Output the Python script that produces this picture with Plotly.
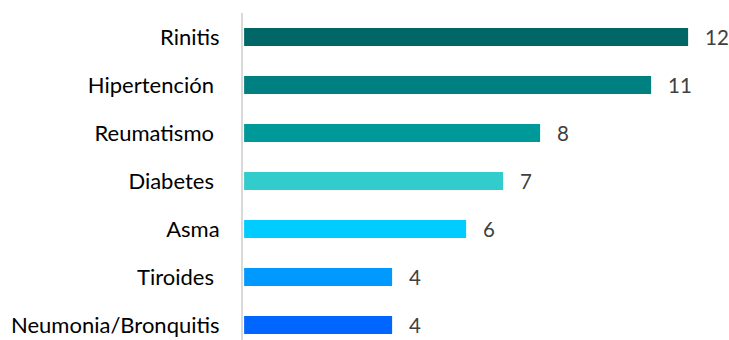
import plotly.graph_objects as go

categories = ["Neumonia/Bronquitis", "Tiroides\u00a0", "Asma", "Diabetes\u00a0",
              "Reumatismo\u00a0", "Hipertención\u00a0", "Rinitis"]
values = [4, 4, 6, 7, 8, 11, 12]
colors = ["#0066FF", "#0099FF", "#00CCFF", "#33CCCC", "#009999", "#008080", "#006666"]

fig = go.Figure()
fig.add_trace(go.Bar(
    y=categories, x=values, orientation="h",
    marker=dict(color=colors, line=dict(width=0)),
    hoverinfo="skip",
))
for c, v in zip(categories, values):
    fig.add_annotation(x=v, y=c, text=str(v), showarrow=False,
                       xanchor="left", xshift=15,
                       font=dict(family="Lato", size=20.5, color="#404040"))

fig.update_layout(
    width=729, height=340,
    margin=dict(l=243, r=0, t=13, b=0),
    paper_bgcolor="white", plot_bgcolor="white",
    bargap=0.625,
    showlegend=False,
    font=dict(family="Lato", size=22, color="#000000"),
)
fig.update_xaxes(range=[-0.03, 486 / 37 - 0.03], visible=False, showgrid=False, zeroline=False)
fig.update_yaxes(range=[-0.3125, 6.5], showline=True, linecolor="#d9d9d9", linewidth=2,
                 showgrid=False, zeroline=False, ticks="outside", ticklen=17,
                 tickcolor="rgba(0,0,0,0)", tickfont=dict(family="Lato", size=22, color="#000000"))

fig.write_html("out.html")
